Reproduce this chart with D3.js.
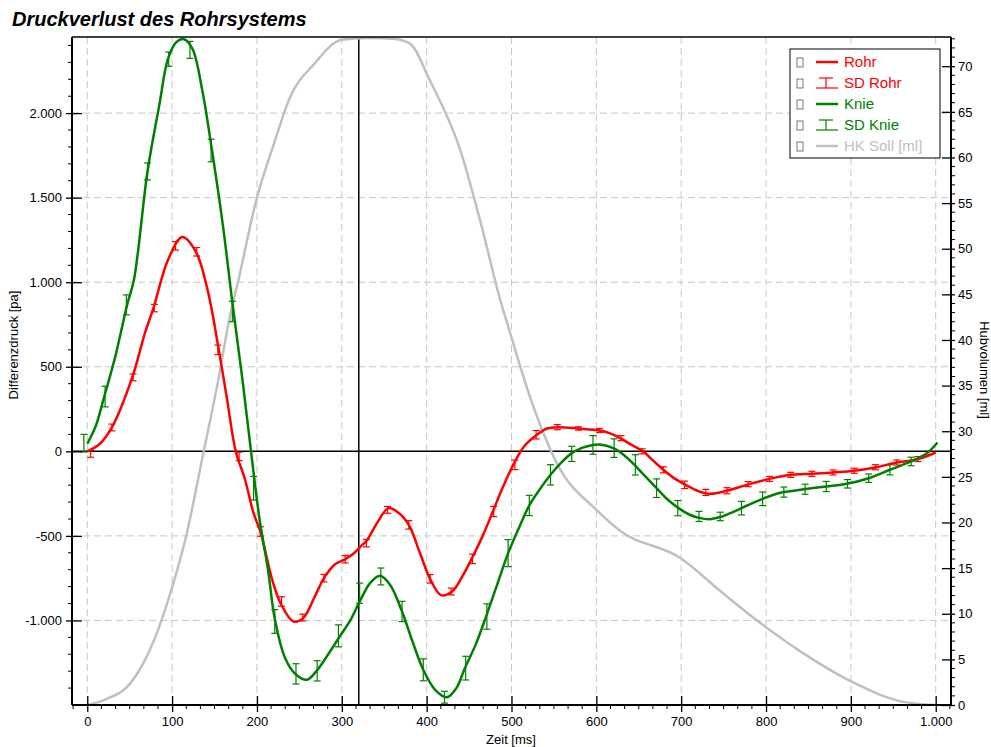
<!DOCTYPE html>
<html>
<head>
<meta charset="utf-8">
<script src="https://cdn.jsdelivr.net/npm/d3@7"></script>
<style>
  body { margin: 0; background: #fff; }
  svg { display: block; font-family: "Liberation Sans", Arial, sans-serif; }
</style>
</head>
<body>
<svg id="chart" width="991" height="747"></svg>
<script>
// ---- data ----
// Rohr (red) smooth curve
const rohrT = [0, 15, 29, 53, 68, 78, 95, 112, 128, 142, 155, 165, 175, 186, 196, 204, 218, 228, 243, 255, 268, 279, 292, 304, 315, 322, 329, 342, 355, 366, 379, 392, 404, 417, 430, 442, 453, 466, 478, 490, 502, 515, 530, 542, 555, 579, 604, 617, 628, 641, 655, 667, 679, 692, 705, 720, 734, 754, 780, 804, 830, 854, 879, 904, 930, 954, 979, 1000];
const rohrV = [0, 45, 141, 437, 700, 847, 1130, 1267, 1180, 950, 600, 300, 0, -168, -366, -474, -760, -900, -1006, -983, -860, -750, -668, -638, -600, -563, -530, -420, -336, -360, -435, -600, -754, -850, -829, -740, -636, -500, -356, -210, -80, 30, 98, 135, 143, 135, 123, 105, 78, 40, 0, -55, -109, -160, -198, -235, -251, -233, -194, -163, -139, -133, -125, -115, -94, -66, -46, -7];

// Knie (green) smooth curve
const knieT = [0, 10, 20, 33, 47, 55, 71, 85, 95, 105, 114, 124, 135, 147, 160, 171, 183, 193, 203, 213, 221, 233, 246, 259, 270, 284, 298, 310, 322, 334, 345, 357, 371, 383, 396, 410, 424, 435, 445, 458, 470, 483, 496, 509, 521, 534, 546, 558, 570, 583, 596, 604, 620, 632, 645, 658, 671, 684, 697, 710, 720, 734, 745, 758, 771, 784, 796, 808, 821, 845, 871, 895, 921, 946, 971, 990, 1002];
const knieV = [45, 150, 324, 560, 866, 1014, 1655, 2050, 2319, 2420, 2437, 2380, 2150, 1780, 1330, 880, 420, 0, -400, -700, -990, -1220, -1320, -1351, -1300, -1200, -1091, -1000, -878, -775, -736, -790, -947, -1120, -1292, -1410, -1454, -1400, -1282, -1140, -977, -790, -602, -450, -320, -220, -139, -70, -15, 20, 38, 40, 19, -20, -80, -150, -218, -285, -336, -375, -392, -401, -390, -365, -336, -306, -281, -258, -241, -224, -208, -192, -159, -109, -60, -10, 52];

// SD bars (both series sampled every 25 ms)
const sdTimes = [0, 25, 50, 75, 100, 125, 150, 175, 200, 225, 250, 275, 300, 325, 350, 375, 400, 425, 450, 475, 500, 525, 550, 575, 600, 625, 650, 675, 700, 725, 750, 775, 800, 825, 850, 875, 900, 925, 950, 975];
const rohrMean = [-15, 141, 437, 847, 1215, 1180, 600, -30, -474, -888, -983, -750, -638, -543, -346, -435, -754, -829, -636, -356, -80, 98, 143, 135, 123, 78, 0, -109, -198, -243, -233, -194, -163, -139, -133, -125, -115, -94, -66, -46];
const rohrSd = [20, 20, 20, 22, 25, 25, 28, 25, 28, 28, 20, 22, 22, 22, 20, 25, 25, 20, 28, 30, 28, 25, 15, 10, 12, 15, 15, 18, 22, 18, 18, 15, 15, 15, 15, 15, 15, 15, 15, 15];
const knieMean = [48, 324, 866, 1655, 2319, 2374, 1779, 827, -218, -1006, -1316, -1298, -1091, -839, -740, -947, -1292, -1454, -1282, -977, -602, -320, -139, -15, 38, 19, -80, -218, -336, -385, -385, -336, -281, -241, -224, -208, -192, -159, -109, -60];
const knieSd = [52, 61, 59, 50, 42, 50, 67, 60, 70, 70, 60, 60, 65, 60, 50, 60, 65, 35, 70, 75, 80, 60, 60, 45, 55, 55, 60, 55, 45, 30, 25, 40, 40, 30, 30, 30, 25, 25, 30, 25];

// HK Soll (grey, right axis, ml)
const hkT = [0, 21, 51, 80, 100, 116, 137, 155, 167, 178, 200, 220, 239, 267, 300, 330, 360, 380, 404, 440, 463, 487, 497, 522, 554, 601, 628, 699, 746, 793, 840, 900, 959, 1000];
const hkV = [0, 0.6, 2.4, 7.4, 12.9, 18.3, 27.7, 35.9, 42.1, 46.5, 55.6, 61.5, 66.6, 70.2, 72.9, 73.1, 73.0, 72.5, 68.4, 60.7, 53.1, 44.3, 41.2, 33.7, 26.4, 21.3, 19.1, 16.1, 12.5, 9.0, 5.9, 2.6, 0.4, 0];

const cursorTime = 320;
const xTicks = [0, 100, 200, 300, 400, 500, 600, 700, 800, 900, 1000];
const yTicks = [-1000, -500, 0, 500, 1000, 1500, 2000];
const y2Ticks = [0, 5, 10, 15, 20, 25, 30, 35, 40, 45, 50, 55, 60, 65, 70];

const legendItems = [
  { label: "Rohr", color: "#ff0000", type: "line" },
  { label: "SD Rohr", color: "#ff0000", type: "bar" },
  { label: "Knie", color: "#008000", type: "line" },
  { label: "SD Knie", color: "#008000", type: "bar" },
  { label: "HK Soll [ml]", color: "#c0c0c0", type: "line" }
];

// ---- layout ----
const pL = 72, pR = 951, pT = 37, pB = 705;
const RED = "#ff0000", GREEN = "#008000", GREY = "#c0c0c0";

const svg = d3.select("#chart");
svg.append("rect").attr("width", 991).attr("height", 747).attr("fill", "#fff");

const x = d3.scaleLinear().domain([-18, 1018]).range([pL, pR]);
const y = d3.scaleLinear().domain([-1500, 2450]).range([pB, pT]);
const y2 = d3.scaleLinear().domain([0, 73.2]).range([pB, pT]);

const de = d3.formatLocale({ decimal: ",", thousands: ".", grouping: [3], currency: ["", "€"], minus: "-" });
const fmt = de.format(",d");

svg.append("defs").append("clipPath").attr("id", "plot-clip")
  .append("rect").attr("x", pL).attr("y", pT).attr("width", pR - pL).attr("height", pB - pT);

// grid
const grid = svg.append("g").attr("stroke", "#c8c8c8").attr("stroke-width", 1).attr("stroke-dasharray", "7,4");
grid.selectAll(".gx").data(xTicks).enter().append("line")
  .attr("x1", d => x(d)).attr("x2", d => x(d)).attr("y1", pT).attr("y2", pB);
grid.selectAll(".gy").data(yTicks.filter(d => d !== 0)).enter().append("line")
  .attr("x1", pL).attr("x2", pR).attr("y1", d => y(d)).attr("y2", d => y(d));

// zero line and cursor
svg.append("line").attr("x1", pL).attr("x2", pR).attr("y1", y(0)).attr("y2", y(0))
  .attr("stroke", "#000").attr("stroke-width", 1.5);
svg.append("line").attr("x1", x(cursorTime)).attr("x2", x(cursorTime)).attr("y1", pT).attr("y2", pB)
  .attr("stroke", "#000").attr("stroke-width", 1.5);

const plot = svg.append("g").attr("clip-path", "url(#plot-clip)");

// HK Soll
const hkData = hkT.map((t, i) => ({ t, v: hkV[i] }));
plot.append("path").datum(hkData)
  .attr("fill", "none").attr("stroke", GREY).attr("stroke-width", 2.5)
  .attr("d", d3.line().x(d => x(d.t)).y(d => y2(d.v)).curve(d3.curveMonotoneX));

// error bars
function drawBars(means, sds, color, dodge) {
  const data = sdTimes.map((t, i) => ({ t, m: means[i], s: sds[i] }));
  const g = plot.append("g").attr("stroke", color).attr("stroke-width", 1.2);
  const cap = 3.5;
  g.selectAll(".v").data(data).enter().append("line")
    .attr("x1", d => x(d.t) + dodge).attr("x2", d => x(d.t) + dodge)
    .attr("y1", d => y(d.m + d.s)).attr("y2", d => y(d.m - d.s));
  g.selectAll(".t").data(data).enter().append("line")
    .attr("x1", d => x(d.t) + dodge - cap).attr("x2", d => x(d.t) + dodge + cap)
    .attr("y1", d => y(d.m + d.s)).attr("y2", d => y(d.m + d.s));
  g.selectAll(".b").data(data).enter().append("line")
    .attr("x1", d => x(d.t) + dodge - cap).attr("x2", d => x(d.t) + dodge + cap)
    .attr("y1", d => y(d.m - d.s)).attr("y2", d => y(d.m - d.s));
}
drawBars(rohrMean, rohrSd, RED, 3.4);
drawBars(knieMean, knieSd, GREEN, -3.4);

// series lines
const curveLine = d3.line().x(d => x(d.t)).y(d => y(d.v)).curve(d3.curveCatmullRom.alpha(0.5));
plot.append("path").datum(rohrT.map((t, i) => ({ t, v: rohrV[i] })))
  .attr("fill", "none").attr("stroke", RED).attr("stroke-width", 2.5).attr("d", curveLine);
plot.append("path").datum(knieT.map((t, i) => ({ t, v: knieV[i] })))
  .attr("fill", "none").attr("stroke", GREEN).attr("stroke-width", 2.5).attr("d", curveLine);

// axes
const axisFont = 13;
// left
const yAxis = svg.append("g").attr("transform", `translate(${pL},0)`)
  .call(d3.axisLeft(y).tickValues(yTicks).tickFormat(fmt).tickSize(6).tickPadding(4));
yAxis.selectAll(".tick line").attr("x2", -6).attr("x1", 10).attr("stroke-width", 1.3);
yAxis.append("g").selectAll("line").data(d3.range(-1400, 2450, 100).filter(d => d % 500 !== 0)).enter().append("line")
  .attr("x1", -4).attr("x2", 0).attr("y1", d => y(d)).attr("y2", d => y(d)).attr("stroke", "#000");
// bottom
const xAxis = svg.append("g").attr("transform", `translate(0,${pB})`)
  .call(d3.axisBottom(x).tickValues(xTicks).tickFormat(fmt).tickSize(7).tickPadding(5));
xAxis.selectAll(".tick line").attr("y1", -9).attr("y2", 7).attr("stroke-width", 1.3);
xAxis.append("g").selectAll("line").data(d3.range(-1, 62).map(i => i * 100 / 6).filter(d => Math.round(d) % 100 !== 0 && d <= 1018)).enter().append("line")
  .attr("x1", d => x(d)).attr("x2", d => x(d)).attr("y1", 0).attr("y2", 4).attr("stroke", "#000");
// right
const y2Axis = svg.append("g").attr("transform", `translate(${pR},0)`)
  .call(d3.axisRight(y2).tickValues(y2Ticks).tickSize(4).tickPadding(3));
y2Axis.selectAll(".tick line").attr("x1", -9).attr("x2", 4).attr("stroke-width", 1.3);
y2Axis.append("g").selectAll("line").data(d3.range(1, 74).filter(d => d % 5 !== 0)).enter().append("line")
  .attr("x1", 0).attr("x2", 4).attr("y1", d => y2(d)).attr("y2", d => y2(d)).attr("stroke", "#000");

[yAxis, xAxis, y2Axis].forEach(a => {
  a.select(".domain").attr("stroke-width", 2).attr("stroke", "#000");
  a.selectAll("text").attr("font-size", axisFont).attr("font-family", "Liberation Sans, Arial, sans-serif").attr("fill", "#000");
});
yAxis.select(".domain").attr("d", `M0,${pT}V${pB}`);
xAxis.select(".domain").attr("d", `M${pL},0H${pR}`);
y2Axis.select(".domain").attr("d", `M0,${pT}V${pB}`);
// top frame
svg.append("line").attr("x1", pL).attr("x2", pR).attr("y1", pT).attr("y2", pT).attr("stroke", "#000").attr("stroke-width", 1.3);

// axis titles
svg.append("text").attr("transform", "translate(18,345) rotate(-90)").attr("text-anchor", "middle")
  .attr("font-size", 13).text("Differenzdruck [pa]");
svg.append("text").attr("x", 511).attr("y", 744).attr("text-anchor", "middle")
  .attr("font-size", 13).text("Zeit [ms]");
svg.append("text").attr("transform", "translate(980,370) rotate(90)").attr("text-anchor", "middle")
  .attr("font-size", 13).text("Hubvolumen [ml]");

// title
svg.append("text").attr("x", 12).attr("y", 26).attr("font-size", 20).attr("font-weight", "bold")
  .attr("font-style", "italic").text("Druckverlust des Rohrsystems");

// legend
const lg = svg.append("g").attr("transform", "translate(790,49)");
lg.append("rect").attr("width", 150).attr("height", 109).attr("fill", "#fff").attr("stroke", "#000").attr("stroke-width", 1);
const rows = lg.selectAll(".row").data(legendItems).enter().append("g")
  .attr("transform", (d, i) => `translate(0,${13 + i * 21})`);
rows.append("rect").attr("x", 7).attr("y", -4).attr("width", 6).attr("height", 9)
  .attr("fill", "none").attr("stroke", "#555").attr("stroke-width", 0.8);
rows.filter(d => d.type === "line").append("line")
  .attr("x1", 26).attr("x2", 48).attr("y1", 0).attr("y2", 0).attr("stroke", d => d.color).attr("stroke-width", 2.5);
const barSym = rows.filter(d => d.type === "bar").append("g").attr("stroke", d => d.color).attr("stroke-width", 1.2);
barSym.append("line").attr("x1", 29).attr("x2", 43).attr("y1", -5).attr("y2", -5);
barSym.append("line").attr("x1", 36).attr("x2", 36).attr("y1", -5).attr("y2", 5);
barSym.append("line").attr("x1", 26).attr("x2", 48).attr("y1", 5).attr("y2", 5);
rows.append("text").attr("x", 54).attr("y", 5).attr("font-size", 15).attr("fill", d => d.color).text(d => d.label);
</script>
</body>
</html>
